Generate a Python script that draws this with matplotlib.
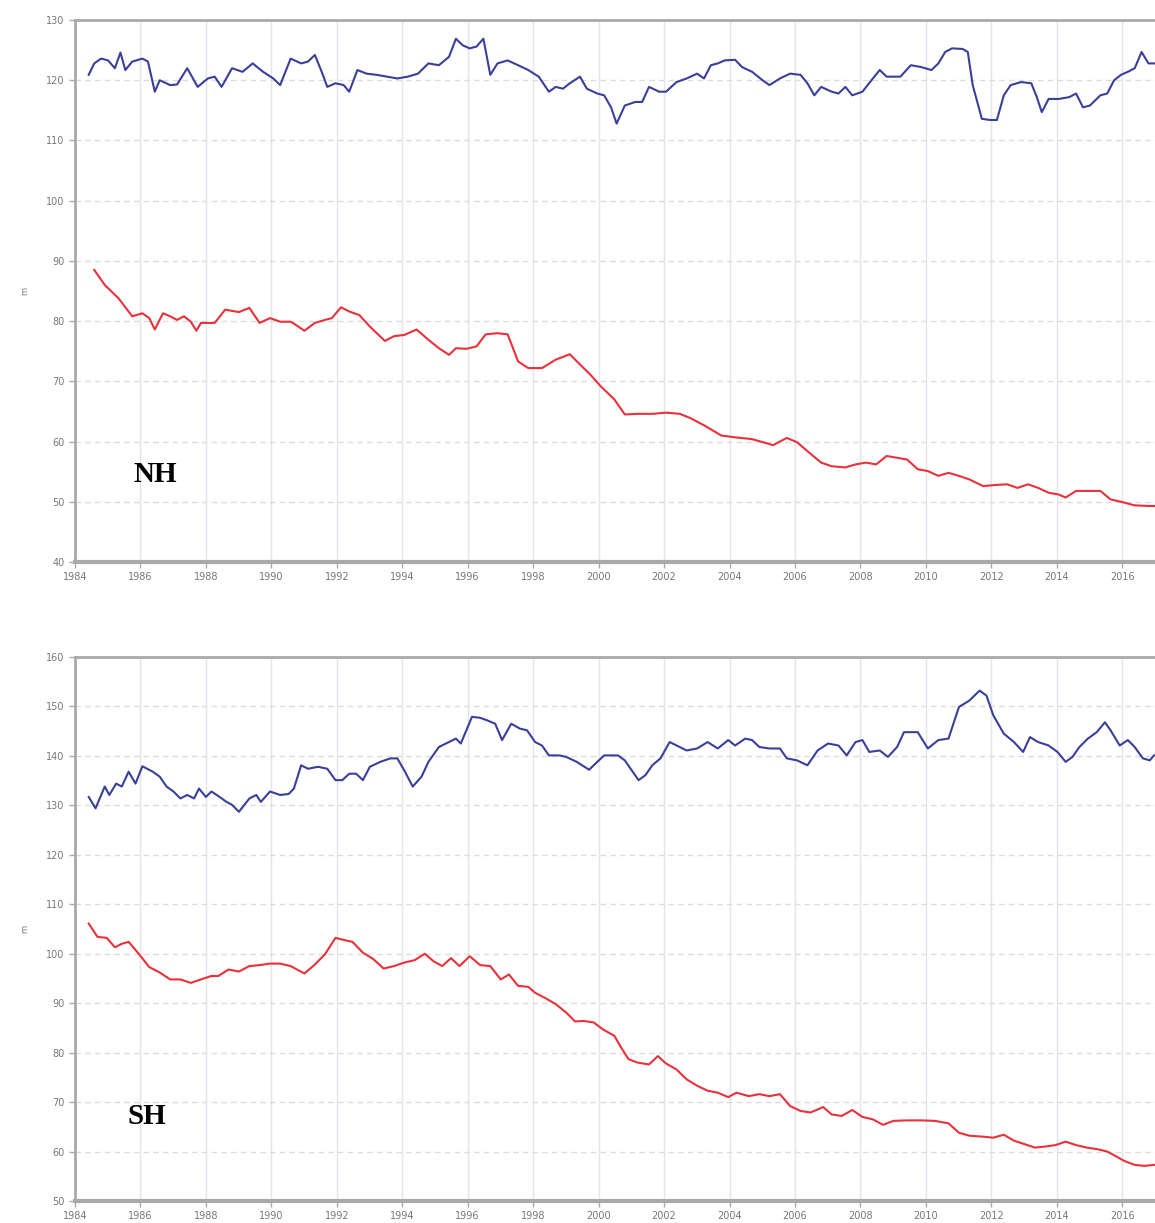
import numpy as np
import matplotlib.pyplot as plt

# NH blue series
nh_blue_yr = [1984.42, 1984.59, 1984.80, 1985.01, 1985.22, 1985.39, 1985.54, 1985.75, 1986.06, 1986.23,
              1986.44, 1986.59, 1986.91, 1987.12, 1987.43, 1987.75, 1988.06, 1988.27, 1988.48, 1988.80,
              1989.12, 1989.43, 1989.75, 1990.06, 1990.27, 1990.59, 1990.91, 1991.12, 1991.33, 1991.54,
              1991.71, 1991.96, 1992.21, 1992.38, 1992.63, 1992.91, 1993.22, 1993.54, 1993.85, 1994.17,
              1994.48, 1994.80, 1995.12, 1995.43, 1995.64, 1995.85, 1996.06, 1996.27, 1996.48, 1996.69,
              1996.91, 1997.22, 1997.54, 1997.85, 1998.17, 1998.48, 1998.69, 1998.91, 1999.12, 1999.43,
              1999.64, 1999.96, 2000.17, 2000.38, 2000.55, 2000.80, 2001.12, 2001.33, 2001.54, 2001.85,
              2002.06, 2002.38, 2002.69, 2003.01, 2003.22, 2003.43, 2003.64, 2003.85, 2004.17, 2004.38,
              2004.69, 2005.01, 2005.22, 2005.54, 2005.85, 2006.17, 2006.38, 2006.59, 2006.80, 2007.12,
              2007.33, 2007.54, 2007.75, 2008.06, 2008.38, 2008.59, 2008.80, 2009.22, 2009.54, 2009.85,
              2010.17, 2010.38, 2010.59, 2010.80, 2011.12, 2011.28, 2011.43, 2011.71, 2011.96, 2012.17,
              2012.38, 2012.59, 2012.91, 2013.22, 2013.39, 2013.54, 2013.75, 2014.06, 2014.38, 2014.59,
              2014.80, 2015.01, 2015.33, 2015.54, 2015.75, 2015.96, 2016.17, 2016.38, 2016.59, 2016.80,
              2016.97]
nh_blue = [120.9, 122.8, 123.6, 123.3, 122.0, 124.6, 121.7, 123.1, 123.6, 123.1,
           118.1, 120.0, 119.2, 119.3, 122.0, 118.9, 120.3, 120.6, 118.9, 122.0,
           121.4, 122.8, 121.4, 120.3, 119.2, 123.6, 122.8, 123.1, 124.2, 121.4,
           118.9, 119.5, 119.2, 118.1, 121.7, 121.1, 120.9, 120.6, 120.3, 120.6,
           121.1, 122.8, 122.5, 123.9, 126.9, 125.8, 125.3, 125.6, 126.9, 120.9,
           122.8, 123.3, 122.5, 121.7, 120.6, 118.1, 118.9, 118.6, 119.5, 120.6,
           118.6, 117.8, 117.5, 115.5, 112.8, 115.8, 116.4, 116.4, 118.9, 118.1,
           118.1, 119.7, 120.3, 121.1, 120.3, 122.5, 122.8, 123.3, 123.4, 122.2,
           121.4, 120.0, 119.2, 120.3, 121.1, 120.9, 119.5, 117.5, 118.9, 118.1,
           117.8, 118.9, 117.5, 118.1, 120.3, 121.7, 120.6, 120.6, 122.5, 122.2,
           121.7, 122.8, 124.7, 125.3, 125.2, 124.7, 119.2, 113.6, 113.4, 113.4,
           117.5, 119.2, 119.7, 119.5, 117.2, 114.7, 116.9, 116.9, 117.2, 117.8,
           115.5, 115.8, 117.5, 117.8, 120.0, 120.9, 121.4, 122.0, 124.7, 122.8,
           122.8]

# NH red series
nh_red_yr = [1984.59, 1984.91, 1985.33, 1985.75, 1986.06, 1986.27, 1986.44, 1986.69, 1986.91, 1987.12,
             1987.33, 1987.54, 1987.71, 1987.85, 1988.27, 1988.59, 1989.01, 1989.33, 1989.64, 1989.96,
             1990.27, 1990.59, 1990.74, 1991.01, 1991.33, 1991.64, 1991.85, 1992.13, 1992.38, 1992.69,
             1993.01, 1993.47, 1993.75, 1994.06, 1994.44, 1994.80, 1995.12, 1995.43, 1995.64, 1995.96,
             1996.27, 1996.55, 1996.91, 1997.22, 1997.54, 1997.85, 1998.27, 1998.69, 1999.12, 1999.43,
             1999.75, 2000.06, 2000.48, 2000.80, 2001.22, 2001.64, 2002.06, 2002.48, 2002.80, 2003.22,
             2003.75, 2004.17, 2004.69, 2005.01, 2005.33, 2005.75, 2006.06, 2006.38, 2006.80, 2007.12,
             2007.54, 2007.85, 2008.17, 2008.48, 2008.80, 2009.12, 2009.43, 2009.75, 2010.06, 2010.38,
             2010.69, 2011.01, 2011.33, 2011.75, 2012.17, 2012.48, 2012.80, 2013.12, 2013.43, 2013.75,
             2014.06, 2014.27, 2014.59, 2015.01, 2015.33, 2015.64, 2015.96, 2016.38, 2016.80, 2016.97]
nh_red = [88.5, 86.0, 83.8, 80.8, 81.3, 80.5, 78.6, 81.3, 80.8, 80.2,
          80.8, 79.9, 78.4, 79.7, 79.7, 81.9, 81.5, 82.2, 79.7, 80.5,
          79.9, 79.9, 79.4, 78.4, 79.7, 80.2, 80.5, 82.3, 81.6, 81.0,
          79.1, 76.7, 77.5, 77.7, 78.6, 76.9, 75.5, 74.4, 75.5, 75.4,
          75.8, 77.8, 78.0, 77.8, 73.3, 72.2, 72.2, 73.6, 74.5, 72.8,
          71.1, 69.2, 67.0, 64.5, 64.6, 64.6, 64.8, 64.6, 63.9, 62.7,
          61.0, 60.7, 60.4, 59.9, 59.4, 60.6, 59.9, 58.4, 56.5, 55.9,
          55.7, 56.2, 56.5, 56.2, 57.6, 57.3, 57.0, 55.4, 55.1, 54.3,
          54.8, 54.3, 53.7, 52.6, 52.8, 52.9, 52.3, 52.9, 52.3, 51.5,
          51.2, 50.7, 51.8, 51.8, 51.8, 50.4, 50.0, 49.4, 49.3, 49.3]

# SH blue series
sh_blue_yr = [1984.42, 1984.63, 1984.91, 1985.05, 1985.26, 1985.43, 1985.64, 1985.85, 1986.06, 1986.38,
              1986.59, 1986.80, 1987.01, 1987.22, 1987.43, 1987.64, 1987.79, 1988.00, 1988.17, 1988.42,
              1988.63, 1988.80, 1989.01, 1989.33, 1989.54, 1989.68, 1989.96, 1990.27, 1990.53, 1990.69,
              1990.91, 1991.12, 1991.43, 1991.71, 1991.96, 1992.17, 1992.38, 1992.59, 1992.80, 1993.01,
              1993.33, 1993.64, 1993.85, 1994.06, 1994.32, 1994.59, 1994.80, 1995.12, 1995.43, 1995.64,
              1995.79, 1995.96, 1996.13, 1996.38, 1996.59, 1996.84, 1997.05, 1997.33, 1997.60, 1997.81,
              1998.06, 1998.27, 1998.48, 1998.80, 1999.01, 1999.33, 1999.71, 1999.96, 2000.17, 2000.59,
              2000.80, 2001.01, 2001.22, 2001.43, 2001.64, 2001.89, 2002.17, 2002.48, 2002.69, 2003.01,
              2003.33, 2003.64, 2003.96, 2004.17, 2004.48, 2004.69, 2004.91, 2005.22, 2005.54, 2005.75,
              2006.06, 2006.38, 2006.69, 2007.01, 2007.33, 2007.58, 2007.85, 2008.06, 2008.27, 2008.59,
              2008.84, 2009.12, 2009.33, 2009.75, 2010.06, 2010.38, 2010.69, 2011.01, 2011.33, 2011.64,
              2011.85, 2012.06, 2012.38, 2012.69, 2012.97, 2013.18, 2013.43, 2013.75, 2014.02, 2014.27,
              2014.48, 2014.69, 2014.95, 2015.22, 2015.47, 2015.64, 2015.92, 2016.17, 2016.38, 2016.63,
              2016.84, 2016.97]
sh_blue = [131.7, 129.4, 133.8, 132.1, 134.4, 133.8, 136.8, 134.4, 137.9, 136.8,
           135.8, 133.8, 132.8, 131.4, 132.1, 131.4, 133.4, 131.7, 132.8, 131.7,
           130.7, 130.1, 128.7, 131.4, 132.1, 130.7, 132.8, 132.1, 132.3, 133.4,
           138.1, 137.4, 137.8, 137.4, 135.1, 135.1, 136.4, 136.4, 135.1, 137.8,
           138.8, 139.5, 139.5, 137.1, 133.8, 135.8, 138.8, 141.8, 142.8, 143.5,
           142.5, 145.2, 147.9, 147.7, 147.2, 146.5, 143.2, 146.5, 145.5, 145.2,
           142.8, 142.1, 140.1, 140.1, 139.8, 138.8, 137.2, 138.8, 140.1, 140.1,
           139.1, 137.1, 135.1, 136.1, 138.1, 139.5, 142.8, 141.8, 141.1, 141.5,
           142.8, 141.5, 143.2, 142.1, 143.5, 143.2, 141.8, 141.5, 141.5, 139.5,
           139.1, 138.1, 141.1, 142.5, 142.1, 140.1, 142.8, 143.2, 140.8, 141.1,
           139.8, 141.8, 144.8, 144.8, 141.5, 143.2, 143.5, 149.9, 151.2, 153.2,
           152.2, 148.2, 144.5, 142.8, 140.8, 143.8, 142.8, 142.1, 140.8, 138.8,
           139.8, 141.8, 143.5, 144.8, 146.8, 145.2, 142.1, 143.2, 141.8, 139.5,
           139.1, 140.1]

# SH red series
sh_red_yr = [1984.42, 1984.69, 1984.97, 1985.22, 1985.43, 1985.64, 1985.96, 1986.27, 1986.59, 1986.91,
             1987.22, 1987.54, 1987.85, 1988.17, 1988.38, 1988.69, 1989.01, 1989.33, 1989.64, 1989.96,
             1990.27, 1990.59, 1991.01, 1991.33, 1991.64, 1991.96, 1992.27, 1992.48, 1992.80, 1993.12,
             1993.43, 1993.75, 1994.06, 1994.38, 1994.69, 1994.95, 1995.22, 1995.49, 1995.75, 1996.06,
             1996.38, 1996.69, 1997.01, 1997.26, 1997.54, 1997.85, 1998.06, 1998.38, 1998.69, 1999.01,
             1999.28, 1999.54, 1999.85, 2000.13, 2000.48, 2000.69, 2000.91, 2001.18, 2001.54, 2001.81,
             2002.06, 2002.38, 2002.69, 2003.01, 2003.33, 2003.64, 2003.96, 2004.21, 2004.59, 2004.91,
             2005.22, 2005.54, 2005.85, 2006.17, 2006.48, 2006.86, 2007.12, 2007.43, 2007.75, 2008.06,
             2008.38, 2008.69, 2009.01, 2009.43, 2009.85, 2010.27, 2010.69, 2011.01, 2011.33, 2011.75,
             2012.06, 2012.38, 2012.69, 2013.01, 2013.33, 2013.64, 2013.96, 2014.27, 2014.59, 2014.91,
             2015.22, 2015.54, 2015.79, 2016.06, 2016.38, 2016.69, 2016.97]
sh_red = [106.1, 103.4, 103.2, 101.3, 102.0, 102.4, 99.9, 97.3, 96.2, 94.8,
          94.8, 94.1, 94.8, 95.5, 95.5, 96.8, 96.4, 97.5, 97.7, 98.0,
          98.0, 97.5, 96.0, 97.8, 99.9, 103.2, 102.7, 102.4, 100.2, 98.9,
          97.0, 97.5, 98.2, 98.7, 100.0, 98.5, 97.5, 99.1, 97.5, 99.5,
          97.7, 97.5, 94.8, 95.8, 93.5, 93.3, 92.1, 91.0, 89.8, 88.1,
          86.3, 86.4, 86.1, 84.7, 83.4, 81.0, 78.7, 78.0, 77.6, 79.3,
          77.8, 76.6, 74.6, 73.3, 72.3, 71.9, 71.0, 71.9, 71.2, 71.6,
          71.2, 71.6, 69.2, 68.2, 67.9, 69.0, 67.5, 67.2, 68.4, 67.0,
          66.5, 65.4, 66.2, 66.3, 66.3, 66.2, 65.7, 63.8, 63.2, 63.0,
          62.8, 63.4, 62.2, 61.5, 60.8, 61.0, 61.3, 62.0, 61.3, 60.8,
          60.5, 60.0, 59.1, 58.1, 57.3, 57.1, 57.3]

year_ticks = list(range(1984, 2017, 2))

BLUE = '#3a3f9a'
RED = '#e8313b'
GRAY = '#a9a9a9'

fig = plt.figure(figsize=(11.55, 12.23), dpi=100)
ax1 = fig.add_axes([0.0649, 0.5405, 0.9351, 0.4431])
ax2 = fig.add_axes([0.0649, 0.018, 0.9351, 0.4448])


def style(ax, ylim, yticks):
    ax.set_xlim(1984, 2017)
    ax.set_ylim(*ylim)
    ax.set_xticks(year_ticks)
    ax.set_yticks(yticks)
    ax.tick_params(labelsize=7, colors='#777777', length=4, width=1, color=GRAY)
    ax.xaxis.grid(True, color='#e4e4ec', lw=1)
    ax.yaxis.grid(True, color='#dcdcdc', lw=1, ls=(0, (4, 3)))
    ax.set_axisbelow(True)
    for s in ['left', 'top']:
        ax.spines[s].set_color(GRAY)
        ax.spines[s].set_linewidth(2)
    ax.spines['bottom'].set_color(GRAY)
    ax.spines['bottom'].set_linewidth(3)
    ax.spines['right'].set_visible(False)
    ax.set_ylabel('m', fontsize=6, color='#777777', labelpad=12)


style(ax1, (40, 130), range(40, 131, 10))
style(ax2, (50, 160), range(50, 161, 10))

ax1.plot(nh_blue_yr, nh_blue, color=BLUE, lw=1.5)
ax1.plot(nh_red_yr, nh_red, color=RED, lw=1.5)
ax2.plot(sh_blue_yr, sh_blue, color=BLUE, lw=1.5)
ax2.plot(sh_red_yr, sh_red, color=RED, lw=1.5)

ax1.text(1986.45, 54.5, 'NH', fontsize=21, fontweight='bold', family='Liberation Serif',
         ha='center', va='center')
ax2.text(1986.2, 67.1, 'SH', fontsize=21, fontweight='bold', family='Liberation Serif',
         ha='center', va='center')

fig.savefig('out.png', dpi=100)
